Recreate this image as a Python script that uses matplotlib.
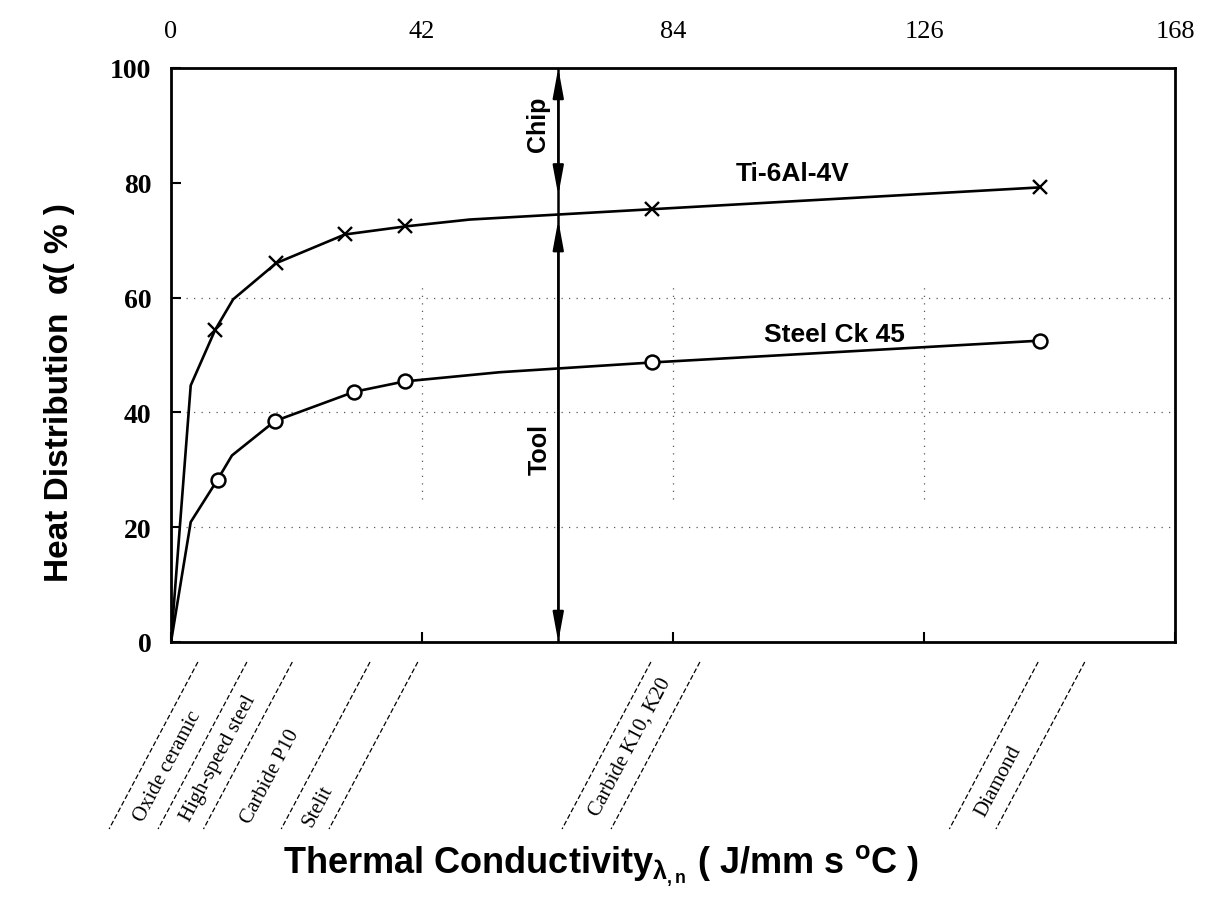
import matplotlib
matplotlib.use("Agg")
import matplotlib.pyplot as plt
import numpy as np

# ---------------- data ----------------
ti_x = [0.0, 3.3, 7.4, 10.4, 17.6, 29.1, 39.2, 50.0, 80.5, 145.4]
ti_y = [0.0, 44.7, 54.4, 59.7, 66.0, 71.0, 72.4, 73.6, 75.4, 79.2]
ti_marks = [2, 4, 5, 6, 8, 9]

steel_x = [0.0, 3.3, 7.8, 10.2, 17.4, 30.7, 39.1, 55.0, 80.5, 145.4]
steel_y = [0.0, 20.9, 28.3, 32.5, 38.5, 43.6, 45.4, 47.0, 48.7, 52.5]
steel_marks = [2, 4, 5, 6, 8, 9]

x_ticks = [0, 42, 84, 126, 168]
y_ticks = [0, 20, 40, 60, 80, 100]
grid_y = [20, 40, 60]
grid_x = [42, 84, 126]

arrow_x = 64.8
chip_range = [100, 77.8]
tool_range = [73.5, 0]

materials = ["Oxide ceramic", "High-speed steel", "Carbide P10", "Stelit",
             "Carbide K10, K20", "Diamond"]
material_label_x = [-0.6, 7.9, 16.6, 24.6, 76.9, 138.5]
material_label_drop = [124, 116, 134, 163, 104, 139]   # px below axis
divider_top_x = [4.5, 12.7, 20.3, 33.3, 41.3, 80.3, 88.5, 145.1, 152.9]

# ---------------- style ----------------
plt.rcParams['mathtext.fontset'] = 'custom'
plt.rcParams['mathtext.rm'] = 'Liberation Sans:bold'
plt.rcParams['mathtext.it'] = 'Liberation Sans:bold'
plt.rcParams['mathtext.bf'] = 'Liberation Sans:bold'

W, H = 1206, 904
fig = plt.figure(figsize=(W / 100, H / 100), dpi=100)
ax_l, ax_r, ax_t, ax_b = 171, 1175, 69, 643
ax = fig.add_axes([ax_l / W, 1 - ax_b / H, (ax_r - ax_l) / W, (ax_b - ax_t) / H])
ax.set_xlim(0, 168)
ax.set_ylim(0, 100)

for s in ax.spines.values():
    s.set_linewidth(2.0)

# grid (dotted, sparse)
for gy in grid_y:
    ax.axhline(gy, color='0.35', lw=0.9, ls=(0, (1, 5)), zorder=1)
for gx in grid_x:
    ax.axvline(gx, ymin=0.25, ymax=0.62, color='0.35', lw=0.9, ls=(0, (1, 5)), zorder=1)

# curves
ax.plot(ti_x, ti_y, color='black', lw=1.9, marker='x', markersize=10,
        markeredgewidth=1.7, markevery=ti_marks, zorder=3)
ax.plot(steel_x, steel_y, color='black', lw=1.9, marker='o', markersize=10,
        markerfacecolor='white', markeredgewidth=1.8, markevery=steel_marks, zorder=3)

ax.text(104.0, 81.7, "Ti-6Al-4V", fontfamily='Liberation Sans', fontweight='bold',
        fontsize=19, ha='center', va='center')
ax.text(111.0, 53.6, "Steel Ck 45", fontfamily='Liberation Sans', fontweight='bold',
        fontsize=19, ha='center', va='center')

# chip / tool arrow
ax.plot([arrow_x, arrow_x], [0, 100], color='black', lw=1.8, zorder=2)
astyle = '<|-|>,head_length=1.8,head_width=0.33'
for rng in (chip_range, tool_range):
    ax.annotate('', xy=(arrow_x, rng[0]), xytext=(arrow_x, rng[1]),
                arrowprops=dict(arrowstyle=astyle, lw=1.6, color='black',
                                shrinkA=0, shrinkB=0, mutation_scale=10), zorder=4)
ax.text(61.4, 90.4, "Chip", rotation=90, fontfamily='Liberation Sans', fontweight='bold',
        fontsize=18, ha='center', va='center')
ax.text(61.7, 33.7, "Tool", rotation=90, fontfamily='Liberation Sans', fontweight='bold',
        fontsize=18, ha='center', va='center')

# ticks
ax.set_xticks(x_ticks)
ax.set_yticks(y_ticks)
ax.tick_params(axis='x', direction='in', length=7, width=1.5, bottom=True, top=False,
               labelbottom=False, labeltop=True, pad=19)
ax.tick_params(axis='y', direction='in', length=7, width=1.5, pad=14)
for lab in ax.get_xticklabels():
    lab.set_fontfamily('Liberation Serif')
    lab.set_fontsize(19)
for lab in ax.get_yticklabels():
    lab.set_fontfamily('Liberation Serif')
    lab.set_fontweight('bold')
    lab.set_fontsize(20)

# material labels below the axis
ang = 62.0
axh = ax_b - ax_t
px2data = 168 / (ax_r - ax_l)
trans = ax.get_xaxis_transform()
top_drop, bot_drop = 20, 187
dx_data = (bot_drop - top_drop) / np.tan(np.radians(ang)) * px2data
for xt in divider_top_x:
    ax.plot([xt, xt - dx_data], [-top_drop / axh, -bot_drop / axh], transform=trans,
            color='black', lw=0.9, ls=(0, (4, 2)), clip_on=False)
for name, lx, drop in zip(materials, material_label_x, material_label_drop):
    ax.text(lx, -drop / axh, name, transform=trans, rotation=ang, rotation_mode='anchor',
            ha='center', va='center', fontfamily='Liberation Serif', fontsize=15,
            clip_on=False)

# axis titles
fig.text(60 / W, 1 - 393 / H, "Heat Distribution  α( % )", rotation=90,
         fontfamily='Liberation Sans', fontweight='bold', fontsize=24,
         ha='center', va='center')
fig.text(601 / W, 1 - 866 / H,
         r"Thermal Conductivity$_{\lambda_{,n}}$ ( J/mm s $^{o}$C )",
         fontfamily='Liberation Sans', fontweight='bold', fontsize=26,
         ha='center', va='center')

fig.savefig("out.png", dpi=100, facecolor='white')
